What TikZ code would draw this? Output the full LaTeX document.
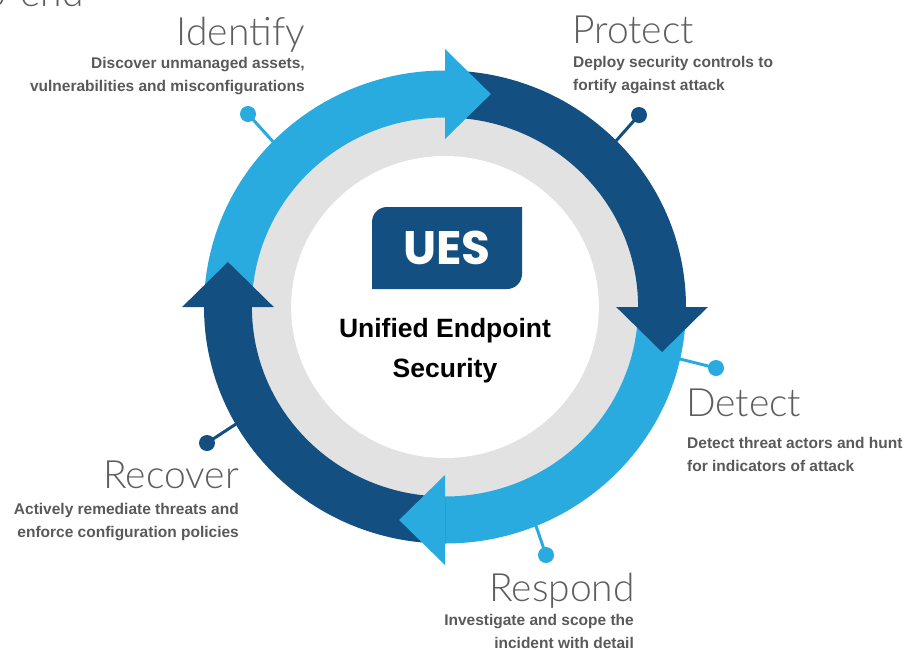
\documentclass[tikz,border=0pt]{standalone}
\usepackage{fontspec}
\setmainfont{Liberation Sans}
\newfontfamily\titlefont{Lato Light}
\newfontfamily\uesfont{Poppins}
\definecolor{lblue}{HTML}{29ABE0}
\definecolor{dblue}{HTML}{134F80}
\definecolor{ringgray}{HTML}{E2E2E2}
\definecolor{titlegray}{HTML}{5E5E5E}
\definecolor{descgray}{HTML}{595959}
\begin{document}
\begin{tikzpicture}[x=1pt,y=-1pt,
  title/.style={font=\titlefont\fontsize{39}{39}\selectfont, text=titlegray, inner sep=0pt},
  desc/.style={font=\bfseries\fontsize{15.5}{22.3}\selectfont, text=descgray, inner sep=0pt},
  pindot/.style={circle, inner sep=0pt, minimum size=16pt},
  pinline/.style={line width=3pt}]
\useasboundingbox (0,0) rectangle (906,649);
\clip (0,0) rectangle (906,649);
% ring
\begin{scope}[shift={(445,307)}, yscale=-1, xscale=1.019]
  \fill[ringgray] (0,0) circle (191);
  \fill[white] (0,0) circle (151);
  \fill[lblue] (180:236.5) arc[start angle=180, end angle=90, radius=236.5] -- (90:189.5) arc[start angle=90, end angle=180, radius=189.5] -- cycle;
  \fill[dblue] (90:236.5) arc[start angle=90, end angle=0, radius=236.5] -- (0:189.5) arc[start angle=0, end angle=90, radius=189.5] -- cycle;
  \fill[lblue] (0:236.5) arc[start angle=0, end angle=-90, radius=236.5] -- (-90:189.5) arc[start angle=-90, end angle=0, radius=189.5] -- cycle;
  \fill[dblue] (-90:236.5) arc[start angle=-90, end angle=-180, radius=236.5] -- (-180:189.5) arc[start angle=-180, end angle=-90, radius=189.5] -- cycle;
  % arrowheads
  \fill[lblue] (0,258) -- (0,168) -- (45,213) -- cycle;
  \fill[dblue] (258,0) -- (168,0) -- (213,-45) -- cycle;
  \fill[lblue] (0,-258) -- (0,-168) -- (-45,-213) -- cycle;
  \fill[dblue] (-258,0) -- (-168,0) -- (-213,45) -- cycle;
  % pin anchors on the ring
  \coordinate (ringI) at (135.6:236);
  \coordinate (ringP) at (44.7:236);
  \coordinate (ringD) at (-12.7:236);
  \coordinate (ringR) at (-67.8:236);
  \coordinate (ringC) at (209.7:236);
\end{scope}
% pins
\node[pindot, fill=lblue] (dotI) at (248,114) {};
\node[pindot, fill=dblue] (dotP) at (639,115) {};
\node[pindot, fill=lblue] (dotD) at (716,368) {};
\node[pindot, fill=lblue] (dotR) at (546,555) {};
\node[pindot, fill=dblue] (dotC) at (207,443) {};
\draw[pinline, lblue] (ringI) -- (dotI.center);
\draw[pinline, dblue] (ringP) -- (dotP.center);
\draw[pinline, lblue] (ringD) -- (dotD.center);
\draw[pinline, lblue] (ringR) -- (dotR.center);
\draw[pinline, dblue] (ringC) -- (dotC.center);
% UES badge
\fill[dblue] (372,289) -- (372,222) .. controls (372,213.7) and (378.7,207) .. (387,207) -- (522,207) -- (522,274) .. controls (522,282.3) and (515.3,289) .. (507,289) -- cycle;
\node[font=\uesfont\bfseries\fontsize{47}{47}\selectfont, text=white, anchor=base, inner sep=0pt] (ues) at (447,264) {UES};
\node[font=\bfseries\fontsize{26.5}{40}\selectfont, anchor=base, align=center, inner sep=0pt] (uestitle) at (445,377) {Unified Endpoint\\Security};
% labels
\node[title, anchor=base east] (cut) at (84,6) {-to-end};
\node[title, anchor=base east] (tIdentify) at (305,45) {Identify};
\node[desc, anchor=base east, align=right] (dIdentify) at (305,91) {Discover unmanaged assets,\\vulnerabilities and misconfigurations};
\node[title, anchor=base west] (tProtect) at (572,43) {Protect};
\node[desc, anchor=base west, align=left] (dProtect) at (573,90) {Deploy security controls to\\fortify against attack};
\node[title, anchor=base west] (tDetect) at (686,416) {Detect};
\node[desc, anchor=base west, align=left] (dDetect) at (687,471) {Detect threat actors and hunt\\for indicators of attack};
\node[title, anchor=base east] (tRespond) at (635,601) {Respond};
\node[desc, anchor=base east, align=right] (dRespond) at (634,648) {Investigate and scope the\\incident with detail};
\node[title, anchor=base east] (tRecover) at (239,488) {Recover};
\node[desc, anchor=base east, align=right] (dRecover) at (239,537) {Actively remediate threats and\\enforce configuration policies};
\end{tikzpicture}
\end{document}
